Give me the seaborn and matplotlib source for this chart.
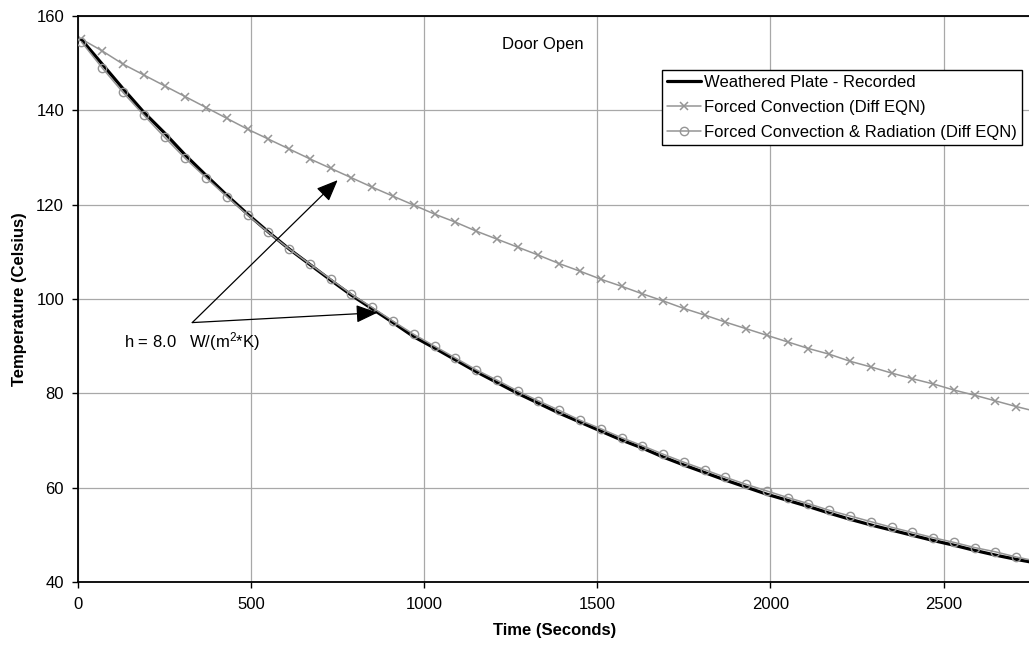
import matplotlib
matplotlib.use("Agg")
import matplotlib.pyplot as plt
import seaborn as sns
import pandas as pd

# ---------------- data ----------------
time_s = [10, 70, 130, 190, 250, 310, 370, 430, 490, 550, 610, 670, 730, 790, 850,
          910, 970, 1030, 1090, 1150, 1210, 1270, 1330, 1390, 1450, 1510, 1570, 1630,
          1690, 1750, 1810, 1870, 1930, 1990, 2050, 2110, 2170, 2230, 2290, 2350, 2410,
          2470, 2530, 2590, 2650, 2710, 2770]

recorded = [155.0, 149.8, 144.6, 139.6, 135.2, 130.5, 126.2, 122.0, 118.0, 114.2,
            110.6, 107.3, 104.0, 100.8, 97.9, 95.0, 92.0, 89.6, 87.1, 84.6, 82.3,
            80.0, 77.9, 75.8, 73.9, 72.0, 70.1, 68.4, 66.5, 64.8, 63.2, 61.6, 60.1,
            58.6, 57.3, 56.0, 54.6, 53.3, 52.1, 51.0, 49.9, 48.8, 47.8, 46.7, 45.7,
            44.8, 44.0]

forced_conv = [155.1, 152.6, 149.8, 147.5, 145.2, 142.9, 140.6, 138.3, 136.0, 133.9,
               131.8, 129.7, 127.7, 125.7, 123.7, 121.8, 119.9, 118.0, 116.3, 114.4,
               112.7, 111.0, 109.3, 107.5, 105.9, 104.2, 102.7, 101.1, 99.6, 98.0,
               96.6, 95.1, 93.7, 92.3, 90.9, 89.5, 88.3, 86.8, 85.6, 84.3, 83.1, 82.0,
               80.7, 79.6, 78.4, 77.2, 76.1]

forced_conv_rad = [154.5, 149.0, 143.8, 139.0, 134.3, 129.8, 125.7, 121.7, 117.8, 114.1,
                   110.6, 107.4, 104.2, 101.0, 98.2, 95.3, 92.5, 90.0, 87.5, 85.0, 82.8,
                   80.5, 78.4, 76.4, 74.3, 72.5, 70.6, 68.9, 67.1, 65.4, 63.8, 62.2,
                   60.7, 59.3, 57.9, 56.6, 55.2, 54.0, 52.8, 51.6, 50.5, 49.4, 48.4,
                   47.3, 46.4, 45.3, 44.4]

series_labels = ["Weathered Plate - Recorded",
                 "Forced Convection (Diff EQN)",
                 "Forced Convection & Radiation (Diff EQN)"]

x_ticks = [0, 500, 1000, 1500, 2000, 2500]
y_ticks = [40, 60, 80, 100, 120, 140, 160]

# ---------------- style ----------------
sns.set_theme(style="white")
plt.rcParams["font.family"] = ["Liberation Sans", "DejaVu Sans"]
plt.rcParams["text.color"] = "black"
plt.rcParams["axes.labelcolor"] = "black"
plt.rcParams["mathtext.default"] = "regular"
plt.rcParams["mathtext.fontset"] = "custom"
plt.rcParams["mathtext.rm"] = "Liberation Sans"

W, H = 1029, 645
fig = plt.figure(figsize=(W / 100, H / 100), dpi=100)
left, right, top, bottom = 78, 1031, 16, 582
ax = fig.add_axes([left / W, (H - bottom) / H, (right - left) / W, (bottom - top) / H])

df = pd.DataFrame({"t": time_s, "rec": recorded, "fc": forced_conv, "fcr": forced_conv_rad})

gray = "#959595"
sns.lineplot(data=df, x="t", y="rec", ax=ax, color="black", linewidth=2.3,
             label=series_labels[0], zorder=3)
sns.lineplot(data=df, x="t", y="fc", ax=ax, color=gray, linewidth=1.1,
             marker="x", markersize=6, markeredgewidth=1.1, markeredgecolor=gray,
             label=series_labels[1], zorder=2)
sns.lineplot(data=df, x="t", y="fcr", ax=ax, color=gray, linewidth=1.1,
             marker="o", markersize=6, markerfacecolor="none", markeredgewidth=1.0,
             markeredgecolor=gray, label=series_labels[2], zorder=4)

ax.set_xlim(0, (right - left) / 0.3462)
ax.set_ylim(40, 160)
ax.set_xticks(x_ticks)
ax.set_yticks(y_ticks)
ax.grid(True, color="#a8a8a8", linewidth=0.9)
ax.set_axisbelow(True)

for s in ["left", "bottom", "top"]:
    ax.spines[s].set_color("black")
    ax.spines[s].set_linewidth(1.3)
ax.spines["right"].set_visible(False)

ax.tick_params(axis="both", which="major", direction="out", length=4, width=1,
               color="black", labelsize=12, labelcolor="black")
ax.tick_params(axis="x", pad=7, bottom=True)
ax.tick_params(axis="y", pad=6, left=True)

ax.set_xlabel("Time (Seconds)", fontsize=12, fontweight="bold", labelpad=8, color="black")
ax.set_ylabel("Temperature (Celsius)", fontsize=12, fontweight="bold", labelpad=7,
              color="black")

# annotations
ax.text(1344, 153.9, "Door Open", fontsize=12, ha="center", va="center", color="black")
ax.text(133, 90.9, "h = 8.0   W/(m$^{2}$*K)", fontsize=12, ha="left", va="center",
        color="black")
vertex = (330, 95.0)
for tip in [(750, 125.2), (865, 97.1)]:
    ax.annotate("", xy=tip, xytext=vertex,
                arrowprops=dict(arrowstyle="-|>,head_length=0.6,head_width=0.25",
                                color="black", lw=0.9,
                                mutation_scale=22, shrinkA=0, shrinkB=0), zorder=6)

leg = ax.legend(loc="upper right", bbox_to_anchor=(1022 / W, (H - 70) / H),
                bbox_transform=fig.transFigure, fontsize=12, frameon=True,
                fancybox=False, edgecolor="black", framealpha=1, borderpad=0.3,
                handlelength=2.0, handletextpad=0.2, labelspacing=0.6,
                borderaxespad=0)
leg.get_frame().set_linewidth(1.0)
for txt in leg.get_texts():
    txt.set_color("black")

fig.savefig("out.png", dpi=100)
